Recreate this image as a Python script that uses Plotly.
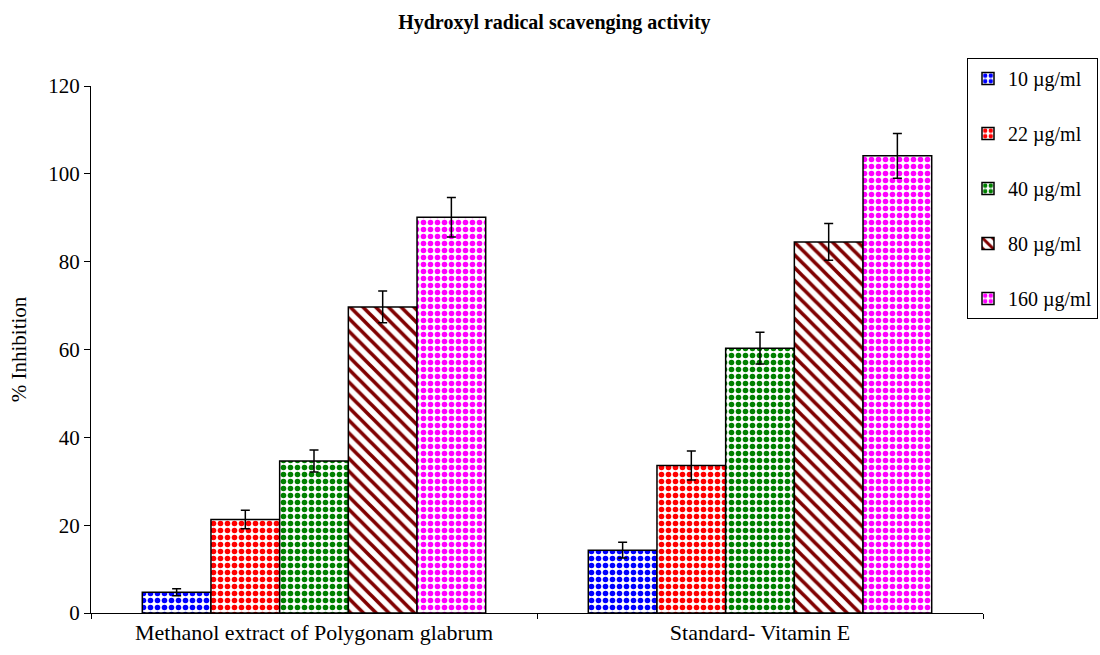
import plotly.graph_objects as go

categories = ["Methanol extract of Polygonam glabrum", "Standard- Vitamin E"]
series_names = ["10 µg/ml", "22 µg/ml", "40 µg/ml", "80 µg/ml", "160 µg/ml"]
vals_10 = [4.7, 14.3]
vals_22 = [21.3, 33.6]
vals_40 = [34.6, 60.3]
vals_80 = [69.7, 84.5]
vals_160 = [90.1, 104.1]
err_10 = [0.8, 1.8]
err_22 = [2.1, 3.3]
err_40 = [2.5, 3.6]
err_80 = [3.6, 4.2]
err_160 = [4.5, 5.1]

values = [vals_10, vals_22, vals_40, vals_80, vals_160]
errors = [err_10, err_22, err_40, err_80, err_160]
colors = ["#0000FF", "#FF0000", "#008000", "#800000", "#FF00FF"]
shapes = [".", ".", ".", "\\", "."]

FONT = "Times New Roman, Liberation Serif, serif"

fig = go.Figure()
for name, v, e, c, s in zip(series_names, values, errors, colors, shapes):
    if s == ".":
        pat = dict(shape=".", size=7, solidity=0.5, fgcolor=c, bgcolor="white", fillmode="replace")
    else:
        pat = dict(shape="\\", size=9, solidity=0.4, fgcolor=c, bgcolor="white", fillmode="replace")
    fig.add_trace(go.Bar(
        x=categories, y=v, name=name, legendgroup=name,
        marker=dict(color=c, pattern=pat, line=dict(color="black", width=1.5)),
        error_y=dict(type="data", array=e, visible=True, color="black", thickness=1.5, width=4.5),
    ))

fig.update_layout(
    width=1100, height=655,
    margin=dict(l=91, r=117, t=86, b=42, autoexpand=False),
    plot_bgcolor="white", paper_bgcolor="white",
    barmode="group", bargap=0.23, bargroupgap=0,
    title=dict(text="<b>Hydroxyl radical scavenging activity</b>", x=0.504, xanchor="center",
               y=1 - 22 / 655, yanchor="middle", font=dict(family=FONT, size=20, color="black")),
    font=dict(family=FONT, color="black"),
    legend=dict(xref="container", yref="container", x=967 / 1100, xanchor="left",
                y=1 - 58 / 655, yanchor="top", bordercolor="black", borderwidth=1,
                font=dict(family=FONT, size=20, color="black"), tracegroupgap=26,
                bgcolor="white"),
    showlegend=True,
)
fig.update_yaxes(range=[0, 120], tickvals=[0, 20, 40, 60, 80, 100, 120], showgrid=False,
                 showline=True, linecolor="black", linewidth=1, ticks="outside", ticklen=6,
                 tickcolor="black", tickfont=dict(family=FONT, size=21, color="black"),
                 title=dict(text="% Inhibition", font=dict(family=FONT, size=21, color="black"), standoff=15),
                 zeroline=False)
fig.update_xaxes(showgrid=False, showline=True, linecolor="black", linewidth=1, ticks="outside",
                 ticklen=5, tickcolor="black", tickson="boundaries",
                 tickfont=dict(family=FONT, size=22, color="black"))

fig.write_html("out.html", config={"displayModeBar": False},
               post_script="document.body.style.margin='0';")
